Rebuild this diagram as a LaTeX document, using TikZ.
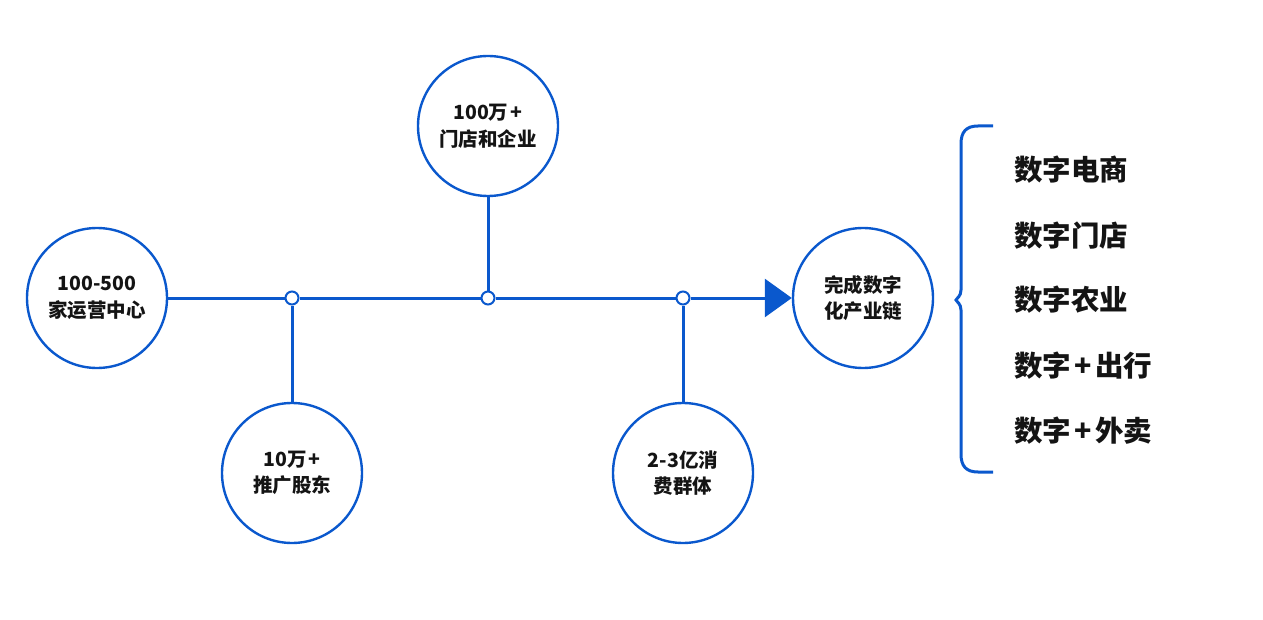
\documentclass[tikz,border=0pt]{standalone}
\usepackage{fontspec}
\setmainfont{Noto Sans CJK SC}
\usetikzlibrary{arrows.meta}
\definecolor{mainblue}{RGB}{10,88,205}
\definecolor{txt}{RGB}{20,20,20}
\newcommand{\pl}{\hspace{0.12em}+\hspace{0.12em}}
\tikzset{
  bubble/.style={circle, draw=mainblue, line width=2.4pt, minimum size=140pt, inner sep=0pt, align=center, text=txt,
    font=\fontsize{19.5}{26.5}\selectfont\bfseries},
  joint/.style={circle, draw=mainblue, line width=2pt, fill=white, minimum size=13pt, inner sep=0pt},
  link/.style={draw=mainblue, line width=3pt},
  item/.style={anchor=west, inner sep=0pt, text=txt, font=\fontsize{28.5}{30}\selectfont\bfseries},
}
\begin{document}
\begin{tikzpicture}[x=1pt,y=-1pt]
\useasboundingbox (0,0) rectangle (1263,620);
\node[bubble] (c1) at (97,298) {100-500\\家运营中心};
\node[bubble] (c3) at (488,126) {100万\pl\\门店和企业};
\node[bubble] (c2) at (292,473) {10万\pl\\推广股东};
\node[bubble] (c4) at (683,473) {2-3亿消\\费群体};
\node[bubble] (c5) at (863,298) {完成数字\\化产业链};
\node[joint] (j1) at (292,298) {};
\node[joint] (j2) at (488,298) {};
\node[joint] (j3) at (683,298) {};
\draw[link] (c1) -- (j1);
\draw[link] (j1) -- (j2);
\draw[link] (j2) -- (j3);
\draw[link,-{Triangle[length=27pt,width=38pt]}] (j3) -- (c5);
\draw[link] (j1) -- (c2);
\draw[link] (j2) -- (c3);
\draw[link] (j3) -- (c4);
\coordinate (bt) at (993,126);
\coordinate (bb) at (993,472);
\draw[mainblue, line width=3pt] (bt) -- (978,126) .. controls (966,126) and (961,132) .. (961,144) -- (961,290) .. controls (961,296) and (957,298) .. (956,300) .. controls (957,302) and (961,304) .. (961,310) -- (961,454) .. controls (961,466) and (966,472) .. (978,472) -- (bb);
\node[item] (t1) at (1014,170) {数字电商};
\node[item] (t2) at (1014,236) {数字门店};
\node[item] (t3) at (1014,300) {数字农业};
\node[item] (t4) at (1014,366) {数字\pl 出行};
\node[item] (t5) at (1014,431) {数字\pl 外卖};
\end{tikzpicture}
\end{document}
